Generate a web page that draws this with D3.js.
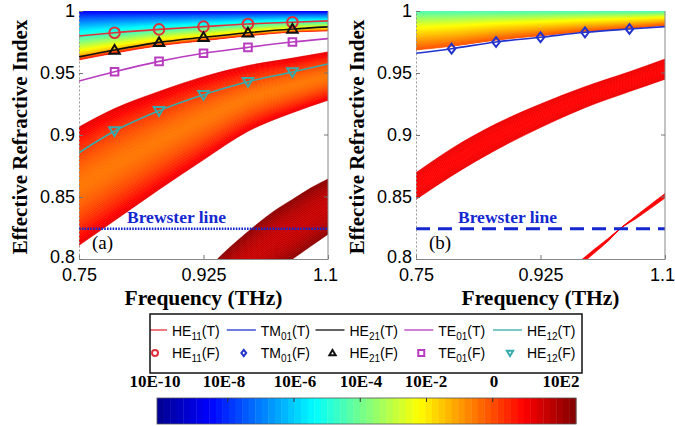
<!DOCTYPE html>
<html>
<head>
<meta charset="utf-8">
<script src="https://cdn.jsdelivr.net/npm/d3@7"></script>
<style>
  body { margin: 0; background: #fff; }
  svg { display: block; }
  .tick text { font-family: "Liberation Sans", Arial, sans-serif; font-size: 18px; fill: #000; }
  .ttl { font-family: "Liberation Serif", "Times New Roman", serif; font-weight: bold; }
</style>
</head>
<body>
<svg id="chart" width="675" height="426"></svg>
<script>
// ---- data ----
var freqGrid = [0.75, 0.8, 0.8625, 0.925, 0.9875, 1.05, 1.1]
var markerFreq = [0.8, 0.8625, 0.925, 0.9875, 1.05]

// theory curves (T)
var he11T = [0.9798, 0.9825, 0.9852, 0.9874, 0.9895, 0.9909, 0.992]
var he21T = [0.963, 0.9686, 0.9747, 0.9788, 0.9825, 0.9855, 0.9872]
var te01T = [0.9435, 0.951, 0.9594, 0.9659, 0.9707, 0.975, 0.9777]
var he12T = [0.8857, 0.9032, 0.9196, 0.9325, 0.943, 0.9508, 0.9573]
var tm01T = [0.9659, 0.9696, 0.975, 0.9788, 0.9828, 0.9855, 0.9874]

// FEM points (F)
var he11F = [0.9825, 0.9852, 0.9874, 0.9895, 0.9909]
var he21F = [0.9686, 0.9747, 0.9788, 0.9825, 0.9855]
var te01F = [0.951, 0.9594, 0.9659, 0.9707, 0.975]
var he12F = [0.9032, 0.9196, 0.9325, 0.943, 0.9508]
var tm01F = [0.9696, 0.975, 0.9788, 0.9828, 0.9855]

// loss contour regions (edges on freqGrid)
var topA_lower = [0.9605, 0.966, 0.972, 0.976, 0.98, 0.983, 0.984]
var bandA_upper = [0.9065, 0.9213, 0.9351, 0.947, 0.956, 0.962, 0.967]
var bandA_lower = [0.811, 0.831, 0.856, 0.88, 0.903, 0.918, 0.928]
var darkFreq = [0.925, 0.95, 0.975, 1.0, 1.025, 1.05, 1.075, 1.1]
var darkA_upper = [0.788, 0.803, 0.816, 0.828, 0.839, 0.848, 0.857, 0.8645]
var darkA_lower = [0.74, 0.755, 0.768, 0.78, 0.791, 0.8, 0.81, 0.82]

var topB_lower = [0.9685, 0.9715, 0.9765, 0.98, 0.9835, 0.986, 0.9885]
var bandB_upper = [0.8696, 0.889, 0.909, 0.925, 0.939, 0.951, 0.9613]
var bandB_lower = [0.848, 0.867, 0.888, 0.906, 0.922, 0.935, 0.945]
var thinFreq = [0.98, 1.0, 1.02, 1.037, 1.06, 1.08, 1.1]
var thinB_mid = [0.7965, 0.806, 0.8155, 0.8244, 0.834, 0.8425, 0.851]
var thinB_half = [0.0016, 0.0016, 0.0011, 0.0002, 0.0012, 0.0016, 0.0018]

var brewster = 0.8244

var legNames = ["HE", "TM", "HE", "TE", "HE"]
var legSubs = ["11", "01", "21", "01", "12"]
var legColors = ["#e0313a", "#2233cc", "#111111", "#b93cc0", "#36abab"]
var legMarks = ["circle", "diamond", "triangle", "square", "triangleDown"]

var cbarLabels = ["10E-10", "10E-8", "10E-6", "10E-4", "10E-2", "0", "10E2"]
var cbarLabelX = [155, 224, 295, 361, 426, 494, 561]

// ---- helpers ----
var svg = d3.select("#chart")

// MATLAB jet
var jet = d3.scaleLinear()
  .domain([0, 0.125, 0.375, 0.625, 0.875, 1])
  .range(["#00008f", "#0000ff", "#00ffff", "#ffff00", "#ff0000", "#800000"])
  .interpolate(d3.interpolateRgb)

function symbolPath(kind, s){
  if(kind == "circle") return d3.symbol().type(d3.symbolCircle).size(Math.PI*s*s)()
  if(kind == "square") return "M"+(-s)+","+(-s)+"H"+s+"V"+s+"H"+(-s)+"Z"
  if(kind == "diamond") return "M0,"+(-s*1.3)+"L"+(s)+",0L0,"+(s*1.3)+"L"+(-s)+",0Z"
  if(kind == "triangle") return "M0,"+(-s)+"L"+(s*1.05)+","+(s*0.75)+"L"+(-s*1.05)+","+(s*0.75)+"Z"
  if(kind == "triangleDown") return "M0,"+(s)+"L"+(s*1.05)+","+(-s*0.75)+"L"+(-s*1.05)+","+(-s*0.75)+"Z"
}

// draws a region between two edges as many thin strips, coloured by colorAt(s)
function drawBand(g, x, y, freqs, lower, upper, colorAt, nStrips){
  for(var k=0; k<nStrips; k++){
    var s0 = k/nStrips, s1 = (k+1)/nStrips
    var col = jet(colorAt((s0+s1)/2))
    var area = d3.area()
      .curve(d3.curveMonotoneX)
      .x((d,i) => x(freqs[i]))
      .y0((d,i) => y(lower[i] + (upper[i]-lower[i])*s0))
      .y1((d,i) => y(lower[i] + (upper[i]-lower[i])*s1))
    g.append("path")
      .datum(freqs)
      .attr("d", area)
      .attr("fill", col)
      .attr("stroke", col)
      .attr("stroke-width", 0.6)
  }
}

function panel(id, left){
  var top = 11, bottom = 259, right = left + 249
  var x = d3.scaleLinear().domain([0.75, 1.1]).range([left, right])
  var y = d3.scaleLinear().domain([0.8, 1]).range([bottom, top])
  var g = svg.append("g")

  svg.append("clipPath").attr("id", "clip"+id)
    .append("rect").attr("x", left).attr("y", top)
    .attr("width", right-left).attr("height", bottom-top)
  var plot = g.append("g").attr("clip-path", "url(#clip"+id+")")

  return {x: x, y: y, g: g, plot: plot, left: left, right: right, top: top, bottom: bottom}
}

function axes(p){
  var g = p.g
  var xAxis = d3.axisBottom(p.x).tickValues([0.75, 0.925, 1.1])
    .tickSizeInner(-4).tickSizeOuter(0).tickPadding(9).tickFormat(d => String(d))
  var yAxis = d3.axisLeft(p.y).tickValues([0.8, 0.85, 0.9, 0.95, 1])
    .tickSizeInner(-4).tickSizeOuter(0).tickPadding(4).tickFormat(d => String(d))

  var gx = g.append("g").attr("transform", "translate(0,"+p.bottom+")").call(xAxis)
  var gy = g.append("g").attr("transform", "translate("+p.left+",0)").call(yAxis)
  gx.selectAll(".tick line").attr("stroke", "#777")
  gy.selectAll(".tick line").attr("stroke", "#777")
  gx.select(".domain").attr("stroke", "#888")
  gy.select(".domain").attr("stroke", "#999").attr("stroke-dasharray", "2,2")
  gx.selectAll(".tick text").filter(d => d == 1.1).attr("dx", -3)
  gy.selectAll(".tick text").filter(d => d == 0.8).attr("dy", "0.2em")

  // right edge with inward ticks
  g.append("line").attr("x1", p.right).attr("x2", p.right)
    .attr("y1", p.top).attr("y2", p.bottom).attr("stroke", "#888")
  g.selectAll(".rtick").data([0.85, 0.9, 0.95]).enter().append("line")
    .attr("x1", p.right-4).attr("x2", p.right)
    .attr("y1", d => p.y(d)).attr("y2", d => p.y(d)).attr("stroke", "#777")

  g.append("text").attr("class", "ttl")
    .attr("x", (p.left+p.right)/2).attr("y", 305)
    .attr("text-anchor", "middle").style("font-size", "21.5px")
    .text("Frequency (THz)")
  g.append("text").attr("class", "ttl")
    .attr("transform", "translate("+(p.left-52)+","+((p.top+p.bottom)/2+2)+") rotate(-90)")
    .attr("text-anchor", "middle").style("font-size", "21px")
    .text("Effective Refractive Index")
}

function curve(p, vals, color){
  p.plot.append("path")
    .datum(vals)
    .attr("fill", "none").attr("stroke", color).attr("stroke-width", 1.6)
    .attr("d", d3.line().curve(d3.curveMonotoneX)
      .x((d,i) => p.x(freqGrid[i])).y(d => p.y(d)))
}

function markers(p, vals, color, kind, size){
  p.g.selectAll(null).data(vals).enter().append("path")
    .attr("transform", (d,i) => "translate("+p.x(markerFreq[i])+","+p.y(d)+")")
    .attr("d", symbolPath(kind, size))
    .attr("fill", "none").attr("stroke", color).attr("stroke-width", 2)
}

function brewsterLine(p, dash, label){
  p.g.append("line")
    .attr("x1", p.left).attr("x2", p.right)
    .attr("y1", p.y(brewster)).attr("y2", p.y(brewster))
    .attr("stroke", "#1428d0").attr("stroke-width", dash == "dot" ? 2.5 : 3)
    .attr("stroke-dasharray", dash == "dot" ? "1.6,1.2" : "14,8")
  p.g.append("text").attr("class", "ttl")
    .attr("x", label).attr("y", p.y(brewster)-6)
    .style("font-size", "17.5px").attr("fill", "#1428d0")
    .text("Brewster line")
}

function ones(n){ return d3.range(n).map(() => 1.0) }

// ---- panel (a) ----
var pa = panel("a", 79)
var topScaleA = d3.scaleLinear().domain([0, 0.12, 0.5, 0.85, 1]).range([0.87, 0.68, 0.42, 0.22, 0.12])
drawBand(pa.plot, pa.x, pa.y, freqGrid, topA_lower, ones(freqGrid.length), s => topScaleA(s), 70)
drawBand(pa.plot, pa.x, pa.y, freqGrid, bandA_lower, bandA_upper,
  s => 0.76 + 0.14*Math.pow(Math.abs(2*s-1), 1.6), 60)
drawBand(pa.plot, pa.x, pa.y, darkFreq, darkA_lower, darkA_upper,
  s => 0.93 + 0.06*Math.pow(Math.abs(2*s-1), 2), 30)

curve(pa, he11T, legColors[0])
curve(pa, he21T, legColors[2])
curve(pa, te01T, legColors[3])
curve(pa, he12T, legColors[4])
markers(pa, he11F, legColors[0], "circle", 5.3)
markers(pa, he21F, legColors[2], "triangle", 5)
markers(pa, te01F, legColors[3], "square", 3.8)
markers(pa, he12F, legColors[4], "triangleDown", 5)
brewsterLine(pa, "dot", 127)
pa.g.append("text").attr("x", 92).attr("y", 249)
  .style("font-family", "'Liberation Serif', 'Times New Roman', serif").style("font-size", "19px")
  .text("(a)")
axes(pa)

// ---- panel (b) ----
var pb = panel("b", 416)
var topScaleB = d3.scaleLinear().domain([0, 0.6, 1]).range([0.8, 0.62, 0.45])
drawBand(pb.plot, pb.x, pb.y, freqGrid, topB_lower, ones(freqGrid.length), s => topScaleB(s), 50)
drawBand(pb.plot, pb.x, pb.y, freqGrid, bandB_lower, bandB_upper,
  s => 0.875 + 0.02*Math.pow(Math.abs(2*s-1), 2), 20)
drawBand(pb.plot, pb.x, pb.y, thinFreq,
  thinB_mid.map((d,i) => d - thinB_half[i]), thinB_mid.map((d,i) => d + thinB_half[i]),
  s => 0.88, 4)

curve(pb, tm01T, legColors[1])
markers(pb, tm01F, legColors[1], "diamond", 3.8)
brewsterLine(pb, "dash", 458)
pb.g.append("text").attr("x", 429).attr("y", 249)
  .style("font-family", "'Liberation Serif', 'Times New Roman', serif").style("font-size", "19px")
  .text("(b)")
axes(pb)

// ---- legend ----
var leg = svg.append("g")
var boxX = 150, boxY = 314, boxW = 432, boxH = 59
svg.append("clipPath").attr("id", "clipLeg")
  .append("rect").attr("x", boxX).attr("y", boxY).attr("width", boxW).attr("height", boxH)
var legIn = leg.append("g").attr("clip-path", "url(#clipLeg)")
leg.append("rect").attr("x", boxX).attr("y", boxY).attr("width", boxW).attr("height", boxH)
  .attr("fill", "none").attr("stroke", "#111").attr("stroke-width", 1.5)

var legX = d3.scaleLinear().domain([0, 4]).range([172, 527])
legNames.forEach(function(name, i){
  var tx = legX(i)
  legIn.append("line").attr("x1", tx-34).attr("x2", tx-5)
    .attr("y1", 330).attr("y2", 330).attr("stroke", legColors[i]).attr("stroke-width", 1.3)
  legIn.append("path").attr("transform", "translate("+(tx-17)+",353)")
    .attr("d", symbolPath(legMarks[i], legMarks[i] == "diamond" ? 2.4 : 3))
    .attr("fill", "none").attr("stroke", legColors[i]).attr("stroke-width", 2)
  ;["T", "F"].forEach(function(tag, r){
    var t = legIn.append("text").attr("x", tx).attr("y", r == 0 ? 335.5 : 358)
      .style("font-family", "'Liberation Sans', Arial, sans-serif").style("font-size", "14px")
    t.append("tspan").text(name)
    t.append("tspan").attr("dy", 4).style("font-size", "10px").text(legSubs[i])
    t.append("tspan").attr("dy", -4).text("("+tag+")")
  })
})

// ---- colour bar ----
var cbX = d3.scaleLinear().domain([0, 64]).range([157, 576])
var cb = svg.append("g")
cb.selectAll("rect").data(d3.range(64)).enter().append("rect")
  .attr("x", d => cbX(d)).attr("y", 398)
  .attr("width", cbX(1)-cbX(0)+0.4).attr("height", 26)
  .attr("fill", d => jet((d+0.5)/64))
cb.append("rect").attr("x", 157).attr("y", 398).attr("width", 419).attr("height", 26)
  .attr("fill", "none").attr("stroke", "#555").attr("stroke-width", 0.8)
var cbTick = d3.scaleLinear().domain([0, 6]).range([161.5, 559])
cb.selectAll(".cbt").data(d3.range(1, 6)).enter().append("line")
  .attr("x1", d => cbTick(d)).attr("x2", d => cbTick(d))
  .attr("y1", 398).attr("y2", 402).attr("stroke", "#333")
cb.selectAll(".cbl").data(cbarLabels).enter().append("text")
  .attr("class", "ttl")
  .attr("x", (d,i) => cbarLabelX[i]).attr("y", 387)
  .attr("text-anchor", "middle").style("font-size", "17px")
  .text(d => d)
</script>
</body>
</html>
